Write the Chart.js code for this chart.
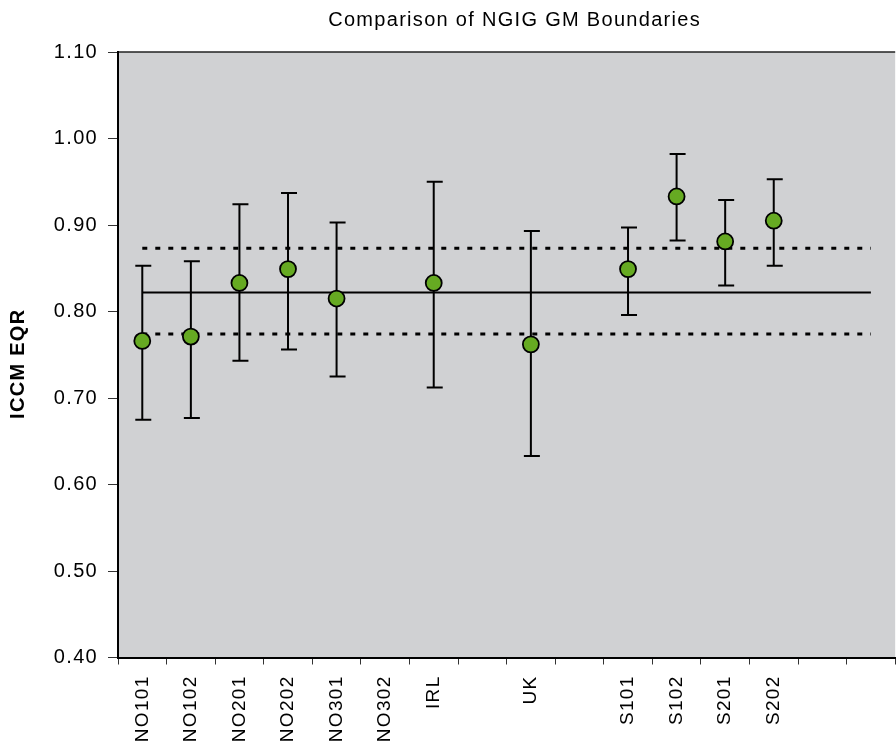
<!DOCTYPE html>
<html>
<head>
<meta charset="utf-8">
<script src="https://cdn.jsdelivr.net/npm/chart.js@4"></script>
<style>
html,body{margin:0;padding:0;overflow:hidden;background:#fff;width:896px;height:749px}
#wrap{width:905px;height:749px}
</style>
</head>
<body>
<div id="wrap"><canvas id="c" width="905" height="749"></canvas></div>
<script>
// ---- data ----
const categories = ['NO101','NO102','NO201','NO202','NO301','NO302','IRL','','UK','','S101','S102','S201','S202','',''];
const eqrValues  = [0.766,0.771,0.833,0.849,0.815,null,0.833,null,0.762,null,0.849,0.933,0.881,0.905,null,null];
const eqrLower   = [0.675,0.677,0.743,0.756,0.725,null,0.712,null,0.633,null,0.796,0.882,0.830,0.853,null,null];
const eqrUpper   = [0.853,0.858,0.924,0.937,0.903,null,0.950,null,0.893,null,0.897,0.982,0.929,0.953,null,null];
const meanLine   = [0.822,0.822,0.822,0.822,0.822,0.822,0.822,0.822,0.822,0.822,0.822,0.822,0.822,0.822,0.822,0.822];
const upperLine  = [0.873,0.873,0.873,0.873,0.873,0.873,0.873,0.873,0.873,0.873,0.873,0.873,0.873,0.873,0.873,0.873];
const lowerLine  = [0.774,0.774,0.774,0.774,0.774,0.774,0.774,0.774,0.774,0.774,0.774,0.774,0.774,0.774,0.774,0.774];
const yMin = 0.40, yMax = 1.10, yStep = 0.10;
const chartTitle = 'Comparison of NGIG GM Boundaries';
const yTitle = 'ICCM EQR';

Chart.defaults.font.family = "'Liberation Sans', Arial, sans-serif";
Chart.defaults.color = '#000';

const SPACING = '1.3px';
const spacingPlugin = {
  id: 'spacing',
  beforeUpdate(c){ c.ctx.letterSpacing = SPACING; },
  beforeLayout(c){ c.ctx.letterSpacing = SPACING; },
  afterLayout(c){
    // the reference title sits a little right of the plot centre
    if (c.titleBlock) { c.titleBlock.left += 8; c.titleBlock.right += 8; }
    // the reference y-axis title sits a little below the plot centre
    const ys = c.scales.y;
    if (ys && !ys._titleShifted) {
      const orig = ys.drawTitle;
      ys.drawTitle = function(){
        this.ctx.save();
        this.ctx.translate(0, 9);
        orig.apply(this, arguments);
        this.ctx.restore();
      };
      ys._titleShifted = true;
    }
  },
  beforeDraw(c){ c.ctx.letterSpacing = SPACING; }
};

const plotBg = {
  id: 'plotBg',
  beforeDraw(c){
    const {ctx, chartArea:a} = c;
    ctx.save();
    ctx.fillStyle = '#d0d1d3';
    ctx.fillRect(a.left, a.top, a.right - a.left, a.bottom - a.top);
    ctx.strokeStyle = '#222';
    ctx.lineWidth = 1.5;
    ctx.beginPath();
    ctx.moveTo(a.left, a.top);
    ctx.lineTo(a.right, a.top);
    ctx.stroke();
    ctx.restore();
  }
};

const errorBars = {
  id: 'errorBars',
  beforeDatasetDraw(c, args){
    if (args.index !== 0) return;
    const {ctx} = c;
    const xs = c.scales.x, ys = c.scales.y;
    ctx.save();
    ctx.strokeStyle = '#000';
    ctx.lineWidth = 2;
    for (let i = 0; i < categories.length; i++) {
      if (eqrLower[i] == null || eqrUpper[i] == null) continue;
      const x = xs.getPixelForValue(i);
      const yl = ys.getPixelForValue(eqrLower[i]);
      const yu = ys.getPixelForValue(eqrUpper[i]);
      ctx.beginPath();
      ctx.moveTo(x, yl); ctx.lineTo(x, yu);
      ctx.moveTo(x - 7, yl); ctx.lineTo(x + 9, yl);
      ctx.moveTo(x - 7, yu); ctx.lineTo(x + 9, yu);
      ctx.stroke();
    }
    ctx.restore();
  }
};

new Chart(document.getElementById('c'), {
  type: 'line',
  data: {
    labels: categories,
    datasets: [
      { label: 'EQR', data: eqrValues, showLine: false,
        pointRadius: 8, pointHoverRadius: 8, pointBorderWidth: 1.8,
        pointBackgroundColor: '#66aa22', pointBorderColor: '#000' },
      { label: 'Mean', data: meanLine, borderColor: '#000', borderWidth: 2,
        pointRadius: 0, fill: false },
      { label: 'Upper', data: upperLine, borderColor: '#000', borderWidth: 3,
        borderDash: [5, 8], pointRadius: 0, fill: false },
      { label: 'Lower', data: lowerLine, borderColor: '#000', borderWidth: 3,
        borderDash: [5, 8], pointRadius: 0, fill: false }
    ]
  },
  options: {
    responsive: false,
    animation: false,
    events: [],
    layout: { padding: 0 },
    plugins: {
      legend: { display: false },
      tooltip: { enabled: false },
      title: {
        display: true, text: chartTitle, fullSize: false,
        font: { size: 20, weight: 'normal' }, color: '#000',
        padding: { top: 8, bottom: 20 }
      }
    },
    scales: {
      x: {
        type: 'category', offset: true,
        grid: { display: true, drawOnChartArea: false, drawTicks: true, tickLength: 7,
                color: '#333', lineWidth: 1, offset: true },
        border: { display: true, color: '#000', width: 2 },
        ticks: { autoSkip: false, minRotation: 90, maxRotation: 90, padding: 11,
                 font: { size: 19 }, color: '#000' },
        afterFit(s){ s.height = 91.5; }
      },
      y: {
        min: yMin, max: yMax,
        grid: { display: true, drawOnChartArea: false, drawTicks: true, tickLength: 10,
                color: '#333', lineWidth: 1 },
        border: { display: true, color: '#000', width: 2 },
        ticks: { stepSize: yStep, padding: 10, font: { size: 20 }, color: '#000',
                 callback: v => v.toFixed(2) },
        title: { display: true, text: yTitle, font: { size: 20, weight: 'bold' },
                 color: '#000', padding: { top: 6, bottom: 0 } },
        afterFit(s){ s.width = 118; }
      }
    }
  },
  plugins: [spacingPlugin, plotBg, errorBars]
});
</script>
</body>
</html>
